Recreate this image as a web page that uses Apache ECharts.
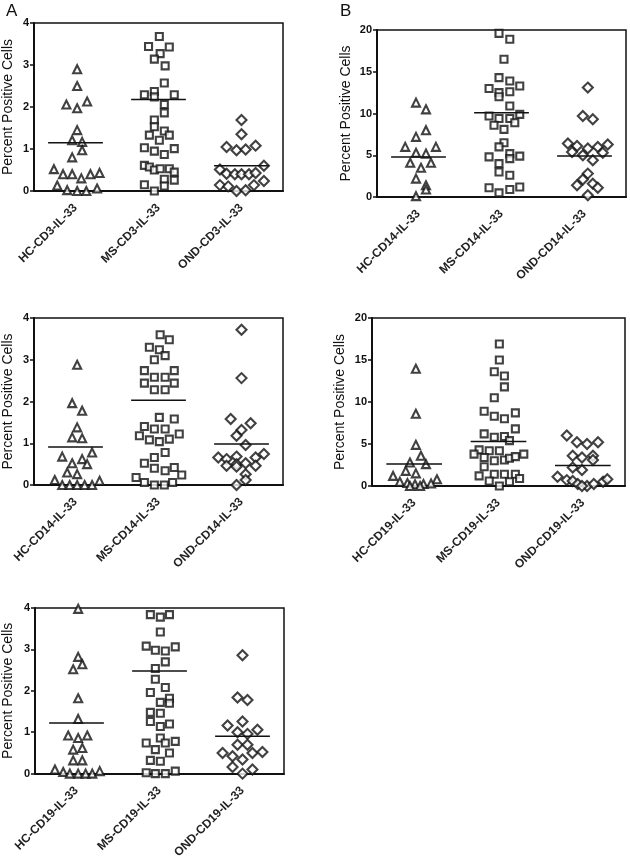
<!DOCTYPE html>
<html><head><meta charset="utf-8">
<script src="https://cdn.jsdelivr.net/npm/echarts@6/dist/echarts.min.js"></script>
<style>html,body{margin:0;padding:0;background:#fff}#c{width:630px;height:861px}</style>
</head><body><div id="c"></div>
<script>
// ---------- categories ----------
const catsA = ['HC-CD3-IL-33','MS-CD3-IL-33','OND-CD3-IL-33'];
const catsB = ['HC-CD14-IL-33','MS-CD14-IL-33','OND-CD14-IL-33'];
const catsC = ['HC-CD14-IL-33','MS-CD14-IL-33','OND-CD14-IL-33'];
const catsD = ['HC-CD19-IL-33','MS-CD19-IL-33','OND-CD19-IL-33'];
const catsE = ['HC-CD19-IL-33','MS-CD19-IL-33','OND-CD19-IL-33'];
const yTitle = 'Percent Positive Cells';

// ---------- Panel A (CD3) ----------
const A_HC  = [2.90,2.50,2.06,1.97,2.13,1.45,1.21,1.17,0.97,0.80,0.52,0.40,0.40,0.30,0.40,0.43,0.13,0.02,0.00,0.00,0.06];
const A_HCj = [0.02,0.02,-0.11,0.02,0.14,0.02,-0.04,0.08,0.08,-0.04,-0.26,-0.15,-0.04,0.07,0.18,0.29,-0.22,-0.10,0.02,0.13,0.26];
const A_MS  = [3.68,3.44,3.43,3.27,3.14,2.98,2.57,2.29,2.37,2.24,2.29,2.06,1.86,1.69,1.53,1.43,1.33,1.33,1.21,1.03,0.95,0.87,1.01,0.61,0.57,0.50,0.53,0.53,0.45,0.15,0.28,0.26,0.00,0.12];
const A_MSj = [0.01,-0.12,0.13,0.02,-0.05,0.08,0.07,-0.17,-0.05,-0.05,0.19,0.07,0.07,-0.05,-0.05,0.07,-0.11,0.13,0.01,-0.17,-0.05,0.07,0.19,-0.17,-0.11,-0.05,0.02,0.13,0.19,-0.17,0.07,0.19,-0.05,0.07];
const A_OND = [1.69,1.35,1.05,0.97,0.99,1.08,0.51,0.41,0.40,0.40,0.40,0.43,0.60,0.14,0.11,0.00,0.02,0.14,0.24];
const A_ONDj= [0.00,0.00,-0.18,-0.06,0.05,0.17,-0.26,-0.18,-0.08,0.00,0.09,0.17,0.27,-0.26,-0.16,-0.06,0.05,0.15,0.27];
const A_means = [1.15,2.18,0.60];

// ---------- Panel B (CD14, 0-20) ----------
const B_HC  = [11.3,10.5,8.0,7.2,6.0,6.0,5.3,5.2,4.1,3.5,4.1,2.2,1.4,0.9,0.1];
const B_HCj = [-0.03,0.09,0.09,-0.03,-0.16,0.21,-0.03,0.09,-0.10,0.03,0.15,-0.03,0.09,0.09,-0.03];
const B_MS  = [19.6,18.9,16.5,14.3,13.9,13.3,13.0,12.5,12.6,12.0,10.9,9.7,9.4,9.4,9.9,8.9,8.6,8.1,6.5,6.0,4.8,5.2,4.6,4.9,4.0,3.0,2.6,1.1,0.5,0.9,1.2];
const B_MSj = [-0.03,0.10,0.03,-0.03,0.10,0.22,-0.15,-0.03,0.10,-0.03,0.10,-0.15,-0.03,0.10,0.22,0.16,-0.09,0.03,0.03,-0.03,-0.15,0.10,0.10,0.22,-0.03,-0.03,0.10,-0.15,-0.03,0.10,0.22];
const B_OND = [13.1,9.7,9.3,6.4,6.1,6.0,6.3,5.4,5.8,5.0,5.3,4.4,2.8,2.1,1.4,1.6,1.1,0.2];
const B_ONDj= [0.04,-0.02,0.10,-0.20,-0.09,0.16,0.28,-0.15,0.04,-0.02,0.22,0.10,0.04,-0.02,-0.09,0.10,0.16,0.04];
const B_means = [4.8,10.1,4.9];

// ---------- Panel C (CD14, 0-4) ----------
const C_HC  = [2.88,1.96,1.78,1.38,1.14,1.12,0.78,0.68,0.52,0.62,0.50,0.30,0.26,0.12,0.10,0,0,0,0,0];
const C_HCj = [0.02,-0.04,0.08,0.02,-0.04,0.08,0.20,-0.16,-0.04,0.08,0.14,-0.10,0.02,-0.25,0.29,-0.16,-0.07,0.02,0.11,0.20];
const C_MS  = [3.60,3.48,3.30,3.24,3.10,3.00,2.74,2.74,2.58,2.58,2.44,2.44,2.28,2.28,1.62,1.58,1.40,1.34,1.34,1.18,1.22,1.08,1.04,1.10,0.78,0.66,0.52,0.40,0.34,0.42,0.18,0.24,0.06,0,0,0.06];
const C_MSj = [0.02,0.13,-0.11,0.01,0.08,-0.05,-0.17,0.19,-0.05,0.08,-0.17,0.19,-0.05,0.08,0.01,0.19,-0.17,-0.05,0.08,-0.23,0.25,-0.11,0.01,0.13,0.08,-0.05,-0.17,-0.05,0.08,0.19,-0.27,0.28,-0.17,-0.05,0.07,0.17];
const C_OND = [3.72,2.56,1.58,1.32,1.48,1.18,0.96,0.66,0.62,0.68,0.66,0.74,0.46,0.50,0.52,0.46,0.44,0.26,0.12,0];
const C_ONDj= [0,0,-0.13,0,0.11,-0.06,0.05,-0.28,-0.18,-0.06,0.17,0.27,-0.18,-0.06,0.05,0.17,-0.06,0.05,0.05,-0.06];
const C_means = [0.91,2.03,0.98];

// ---------- Panel D (CD19, 0-20) ----------
const D_HC  = [13.96,8.6,4.9,3.6,2.8,2.6,1.8,1.5,1.2,0.8,0.5,0.35,0.2,0.24,0.3,0,0];
const D_HCj = [0.02,0.02,0.02,0.08,-0.05,0.14,-0.10,0.02,-0.25,0.27,-0.17,-0.08,0.01,0.11,0.20,-0.05,0.07];
const D_MS  = [16.9,15.0,13.6,13.1,11.8,10.5,8.9,8.3,8.0,8.7,6.8,6.2,5.8,5.9,5.4,4.3,4.2,4.2,3.8,3.8,3.4,3.0,3.1,3.3,3.5,2.3,1.2,1.4,1.4,1.4,0.9,0.6,0.5,0];
const D_MSj = [0.01,0.01,-0.05,0.07,0.07,-0.05,-0.17,-0.05,0.07,0.20,0.20,-0.17,-0.05,0.07,0.13,-0.23,-0.11,0.01,-0.29,0.30,-0.17,-0.05,0.07,0.13,0.20,-0.17,-0.23,-0.05,0.07,0.20,0.25,-0.11,0.13,0.01];
const D_OND = [6.0,5.2,5.0,5.2,3.6,3.4,3.6,3.1,2.2,1.9,1.1,0.7,0.6,0.24,0,0.24,0.5,0.8,0];
const D_ONDj= [-0.19,-0.07,0.05,0.18,-0.12,-0.01,0.12,0.12,-0.12,-0.01,-0.30,-0.19,-0.12,-0.06,0.05,0.13,0.24,0.29,-0.01];
const D_means = [2.62,5.3,2.43];

// ---------- Panel E (CD19, 0-4) ----------
const E_HC  = [3.98,2.82,2.52,2.64,1.82,1.32,0.92,0.86,0.92,0.58,0.62,0.32,0.32,0.10,0.04,0,0,0,0,0.06];
const E_HCj = [0.02,0.02,-0.04,0.07,0.02,0.02,-0.10,0.02,0.13,-0.04,0.07,-0.04,0.07,-0.26,-0.16,-0.08,0.02,0.11,0.19,0.28];
const E_MS  = [3.84,3.78,3.84,3.42,3.08,2.98,2.96,3.06,2.70,2.54,2.28,2.08,1.96,1.82,1.72,1.70,1.48,1.46,1.26,1.14,1.20,0.86,0.74,0.74,0.78,0.58,0.50,0.32,0.30,0.02,0,0,0.06];
const E_MSj = [-0.11,0.01,0.12,0.01,-0.16,-0.05,0.07,0.19,0.07,-0.05,-0.05,0.07,-0.11,0.12,0.01,0.12,-0.11,0.01,-0.11,0.01,0.12,0.01,-0.16,0.07,0.19,-0.05,0.12,-0.11,0.01,-0.16,-0.05,0.07,0.19];
const E_OND = [2.86,1.84,1.78,1.16,1.26,1.00,0.96,1.06,0.70,0.70,0.50,0.42,0.50,0.52,0.34,0.16,0.10,0];
const E_ONDj= [0,-0.06,0.06,-0.18,0,-0.06,0.06,0.18,-0.06,0.06,-0.24,-0.12,0.12,0.24,0,-0.12,0.12,0];
const E_means = [1.22,2.48,0.90];

// ---------- layout / style ----------
const panels = [
  {cats:catsA, vals:[A_HC,A_MS,A_OND], jit:[A_HCj,A_MSj,A_ONDj], means:A_means, max:4,  step:1, grid:{left:29,top:23,width:254,height:168}, gap:19},
  {cats:catsB, vals:[B_HC,B_MS,B_OND], jit:[B_HCj,B_MSj,B_ONDj], means:B_means, max:20, step:5, grid:{left:377,top:30,width:249,height:167}, gap:24},
  {cats:catsC, vals:[C_HC,C_MS,C_OND], jit:[C_HCj,C_MSj,C_ONDj], means:C_means, max:4,  step:1, grid:{left:29,top:318,width:254,height:167}, gap:19},
  {cats:catsD, vals:[D_HC,D_MS,D_OND], jit:[D_HCj,D_MSj,D_ONDj], means:D_means, max:20, step:5, grid:{left:372,top:318,width:253,height:168}, gap:25},
  {cats:catsE, vals:[E_HC,E_MS,E_OND], jit:[E_HCj,E_MSj,E_ONDj], means:E_means, max:4,  step:1, grid:{left:32,top:608,width:252,height:167}, gap:20}
];
const symbols = ['triangle','rect','diamond'];
const symSizes = [8,7,10];
const ink = '#111';
const font = 'Liberation Sans, Arial, sans-serif';
const meanHalf = 0.33;

const grid = [], xAxis = [], yAxis = [], series = [];
panels.forEach((p, i) => {
  grid.push(Object.assign({show:true, borderColor:ink, borderWidth:1.5, backgroundColor:'transparent', containLabel:false}, p.grid));
  xAxis.push({type:'category', gridIndex:i, data:p.cats, boundaryGap:true,
    axisLine:{onZero:false, lineStyle:{color:ink, width:2}}, axisTick:{show:false},
    axisLabel:{rotate:45, interval:0, fontSize:12, fontWeight:'bold', color:'#222', fontFamily:font, margin:15}});
  xAxis.push({type:'value', gridIndex:i, min:-0.5, max:2.5, show:false});
  yAxis.push({type:'value', gridIndex:i, min:0, max:p.max, interval:p.step,
    axisLine:{show:true, onZero:false, lineStyle:{color:ink, width:2}},
    axisTick:{show:true, length:4, lineStyle:{color:ink, width:1.5}},
    axisLabel:{fontSize:11, fontWeight:'bold', color:ink, fontFamily:font, margin:5},
    splitLine:{show:false},
    name:yTitle, nameLocation:'middle', nameGap:p.gap, nameRotate:90,
    nameTextStyle:{fontSize:14, color:'#111', fontFamily:font}});
  p.vals.forEach((vals, g) => {
    series.push({type:'scatter', xAxisIndex:2*i+1, yAxisIndex:i, clip:false,
      symbol:symbols[g], symbolSize:symSizes[g],
      itemStyle:{color:'#fff', borderColor:ink, borderWidth:2.1},
      data: vals.map((v, k) => [g + p.jit[g][k], v]), z:3});
    series.push({type:'line', xAxisIndex:2*i+1, yAxisIndex:i, symbol:'none', silent:true,
      lineStyle:{color:ink, width:1.5},
      data:[[g - meanHalf, p.means[g]], [g + meanHalf, p.means[g]]], z:4});
  });
});

const chart = echarts.init(document.getElementById('c'), null, {renderer:'canvas'});
chart.setOption({
  animation:false,
  backgroundColor:'#fff',
  title:[
    {text:'A', left:1, top:-2, textStyle:{fontSize:17, fontWeight:'normal', color:ink, fontFamily:font}},
    {text:'B', left:335, top:-2, textStyle:{fontSize:17, fontWeight:'normal', color:ink, fontFamily:font}}
  ],
  grid, xAxis, yAxis, series
});
</script></body></html>
